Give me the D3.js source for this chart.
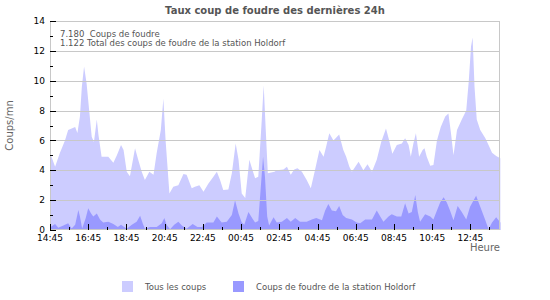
<!DOCTYPE html>
<html>
<head>
<meta charset="utf-8">
<script src="https://cdn.jsdelivr.net/npm/d3@7"></script>
<style>
  body { margin:0; background:#fff; }
  svg { display:block; font-family:"DejaVu Sans", sans-serif; }
</style>
</head>
<body>
<script>
// ---- data (time "HH:MM", coups/mn) ---------------------------------
const allTimes = ["14:48","15:01","15:16","15:32","15:42","16:04","16:11","16:19","16:25","16:32",
  "16:40","16:48","16:56","17:03","17:12","17:17","17:27","17:48","18:04","18:15","18:28","18:36",
  "18:46","18:56","19:12","19:22","19:33","19:43","19:57","20:10","20:20","20:33","20:41","20:48",
  "21:00","21:12","21:28","21:44","21:54","22:10","22:20","22:34","22:47","23:02","23:18","23:29",
  "23:39","23:49","00:05","00:16","00:28","00:37","00:47","00:58","01:11","01:21","01:29","01:39",
  "01:50","01:56","02:02","02:09","02:30","02:37","02:58","03:09","03:21","03:32","03:42","03:56",
  "04:11","04:24","04:37","04:51","05:04","05:12","05:22","05:35","05:53","06:06","06:15","06:25",
  "06:33","06:54","07:09","07:22","07:36","07:51","08:05","08:20","08:30","08:40","08:54","09:10",
  "09:20","09:31","09:38","09:46","09:54","10:04","10:15","10:21","10:28","10:39","10:49","11:00",
  "11:12","11:26","11:36","11:44","11:52","12:03","12:18","12:32","12:40","12:47","12:52","12:58",
  "13:05","13:16","13:32","13:42","13:53","14:06","14:19"];
const allValues = [5.0,4.24,5.15,6.0,6.7,6.9,6.5,7.6,9.6,10.95,
  9.8,8.0,6.25,5.9,7.4,6.4,4.9,4.9,4.5,5.0,5.7,5.36,
  3.9,3.6,5.47,4.7,3.9,3.35,3.9,3.7,5.15,6.7,8.8,6.0,
  2.45,2.9,3.0,3.75,3.7,2.8,2.9,3.0,2.57,3.1,3.57,3.9,
  3.35,2.68,2.72,3.8,5.8,4.7,2.45,2.15,4.7,4.0,3.46,3.57,
  7.4,9.7,6.9,3.8,3.9,4.0,4.06,4.24,3.7,4.06,4.13,3.9,
  3.35,2.8,4.0,5.36,4.9,5.58,6.48,6.0,6.4,5.36,4.9,4.24,
  3.9,4.57,4.0,4.4,3.9,4.7,5.9,6.8,6.0,5.1,5.7,5.8,
  6.14,5.7,4.9,5.8,6.48,4.9,5.36,5.47,4.9,4.3,4.35,6.0,
  6.9,7.6,7.8,6.5,5.0,6.7,7.4,8.0,10.0,12.3,12.9,9.6,
  7.4,6.7,6.14,5.7,5.18,4.96,4.8];

const stationTimes = ["14:48","15:01","15:11","15:27","15:42","15:53","16:04","16:14","16:19","16:26",
  "16:37","16:45","16:54","17:01","17:12","17:22","17:32","17:48","18:04","18:18","18:28","18:38",
  "18:46","19:02","19:17","19:28","19:36","19:43","19:59","20:20","20:36","20:44","20:51","21:02",
  "21:15","21:28","21:39","21:54","22:13","22:28","22:42","22:57","23:18","23:29","23:44","00:00",
  "00:16","00:26","00:37","00:47","00:55","01:08","01:21","01:29","01:39","01:47","01:54","02:00",
  "02:07","02:13","02:27","02:37","02:53","03:09","03:21","03:35","03:50","04:11","04:27","04:41",
  "04:59","05:09","05:19","05:30","05:43","05:53","06:04","06:15","06:33","06:48","06:59","07:15",
  "07:36","07:51","08:02","08:12","08:28","08:38","08:54","09:08","09:20","09:31","09:41","09:52",
  "10:00","10:07","10:23","10:39","10:49","11:00","11:10","11:21","11:31","11:41","11:52","12:05",
  "12:18","12:32","12:44","13:03","13:16","13:32","13:42","13:53","14:06","14:19"];
const stationValues = [0.22,0.4,0.15,0.3,0.45,0.1,0.35,1.34,0.9,0.1,
  0.78,1.45,1.1,0.9,1.1,0.7,0.5,0.55,0.4,0.2,0.35,0.2,
  0.08,0.35,0.55,0.95,0.45,0.08,0.2,0.2,0.45,0.8,0.35,0.05,
  0.35,0.55,0.3,0.08,0.4,0.2,0.2,0.5,0.5,0.9,0.5,0.55,
  1.0,2.0,1.1,0.5,0.35,1.2,0.75,0.5,0.6,2.9,4.9,3.57,
  0.9,0.3,0.85,0.5,0.55,0.8,0.55,0.8,0.55,0.55,0.7,0.8,
  0.65,1.3,1.74,1.3,1.25,1.6,1.0,0.8,0.7,0.5,0.45,0.7,
  0.7,1.3,0.9,0.55,0.9,1.05,0.9,0.9,1.8,1.1,1.2,2.35,
  1.2,0.55,1.05,0.9,0.7,1.3,1.85,2.2,1.85,1.3,0.65,1.6,
  1.2,0.7,1.55,2.3,1.55,0.65,0.05,0.5,0.85,0.5];

const seriesNames = ["Tous les coups", "Coups de foudre de la station Holdorf"];
const infoLines = ["7.180  Coups de foudre", "1.122 Total des coups de foudre de la station Holdorf"];

// ---- layout -------------------------------------------------------
const W = 550, H = 300;
const m = { top:21, right:50, bottom:70, left:50 };
const colLight = "#ccccff", colDark = "#9999ff";

// times before 14:30 belong to the next day
const toDate = s => {
  const [h, mi] = s.split(":").map(Number);
  return new Date(2020, 5, (h < 14 || (h === 14 && mi < 30)) ? 2 : 1, h, mi);
};
const allData = allTimes.map((t, i) => ({ t: toDate(t), v: allValues[i] }));
const stData  = stationTimes.map((t, i) => ({ t: toDate(t), v: stationValues[i] }));

const x = d3.scaleTime()
  .domain([new Date(2020,5,1,14,45), new Date(2020,5,2,14,18)])
  .range([m.left, W - m.right]);
const y = d3.scaleLinear().domain([0, 14]).range([H - m.bottom, m.top]);

const svg = d3.select("body").append("svg").attr("width", W).attr("height", H);

// title
svg.append("text")
  .attr("x", 275).attr("y", 14).attr("text-anchor", "middle")
  .attr("font-size", 10).attr("font-weight", "bold").attr("fill", "#555")
  .text("Taux coup de foudre des dernières 24h");

// areas (first point extended to the plot edge)
const area = d3.area()
  .x(d => x(d.t)).y0(y(0)).y1(d => y(d.v))
  .curve(d3.curveLinear);
const padEdges = arr => [{ t: x.domain()[0], v: arr[0].v }, ...arr];

svg.append("path").datum(padEdges(allData)).attr("fill", colLight).attr("d", area);
svg.append("path").datum(padEdges(stData)).attr("fill", colDark).attr("d", area);

// grid lines
svg.append("g").selectAll("line")
  .data(d3.range(2, 14, 2))
  .join("line")
    .attr("x1", m.left).attr("x2", W - m.right)
    .attr("y1", d => Math.round(y(d)) + 0.5).attr("y2", d => Math.round(y(d)) + 0.5)
    .attr("stroke", "#c8c8c8").attr("stroke-width", 1);

// frame
svg.append("rect")
  .attr("x", m.left + 0.5).attr("y", m.top + 0.5)
  .attr("width", W - m.left - m.right - 1).attr("height", H - m.top - m.bottom - 1)
  .attr("fill", "none").attr("stroke", "#c8c8c8");

// y axis: ticks drawn inward
const yAxisG = svg.append("g").attr("transform", `translate(${m.left},0)`);
yAxisG.selectAll("line.maj")
  .data(d3.range(0, 15, 2)).join("line")
    .attr("x1", 0).attr("x2", 6)
    .attr("y1", d => Math.round(y(d)) + 0.5).attr("y2", d => Math.round(y(d)) + 0.5)
    .attr("stroke", "#000");
yAxisG.selectAll("line.min")
  .data(d3.range(1, 14, 2)).join("line")
    .attr("x1", 0).attr("x2", 3)
    .attr("y1", d => Math.round(y(d)) + 0.5).attr("y2", d => Math.round(y(d)) + 0.5)
    .attr("stroke", "#000");
yAxisG.selectAll("text")
  .data(d3.range(0, 15, 2)).join("text")
    .attr("x", -5).attr("y", d => y(d)).attr("dy", "0.35em")
    .attr("text-anchor", "end").attr("font-size", 9).attr("fill", "#000")
    .text(d => d);

// x axis: hourly ticks at :45, labels every 2h
const [x0, x1] = x.domain();
const hours = d3.timeHour.range(d3.timeHour.floor(x0), x1)
  .map(d => d3.timeMinute.offset(d, 45))
  .filter(d => d >= x0 && d <= x1);
const xAxisG = svg.append("g").attr("transform", `translate(0,${y(0)})`);
xAxisG.selectAll("line")
  .data(hours).join("line")
    .attr("x1", d => Math.round(x(d)) + 0.5).attr("x2", d => Math.round(x(d)) + 0.5)
    .attr("y1", 0).attr("y2", (d, i) => i % 2 ? -3 : -6)
    .attr("stroke", "#000");
xAxisG.selectAll("text")
  .data(hours.filter((d, i) => i % 2 === 0)).join("text")
    .attr("x", d => x(d)).attr("y", 11)
    .attr("text-anchor", "middle").attr("font-size", 9).attr("fill", "#000")
    .text(d3.timeFormat("%H:%M"));

// axis titles
svg.append("text")
  .attr("transform", `translate(13,${(m.top + H - m.bottom) / 2}) rotate(-90)`)
  .attr("text-anchor", "middle").attr("font-size", 10).attr("fill", "#666")
  .text("Coups/mn");
svg.append("text")
  .attr("x", W - m.right).attr("y", 251).attr("text-anchor", "end")
  .attr("font-size", 10).attr("fill", "#666")
  .text("Heure");

// info text inside plot
svg.append("g").selectAll("text")
  .data(infoLines).join("text")
    .attr("x", 60).attr("y", (d, i) => 37 + i * 9)
    .attr("font-size", 8.5).attr("fill", "#555")
    .attr("xml:space", "preserve").style("white-space", "pre")
    .text(d => d);

// legend
const legend = svg.append("g");
const legX = [122, 233];
legend.selectAll("rect")
  .data(seriesNames).join("rect")
    .attr("x", (d, i) => legX[i]).attr("y", 281)
    .attr("width", 11).attr("height", 11)
    .attr("fill", (d, i) => i ? colDark : colLight);
legend.selectAll("text")
  .data(seriesNames).join("text")
    .attr("x", (d, i) => legX[i] + 23).attr("y", 290)
    .attr("font-size", 8.5).attr("fill", "#555")
    .text(d => d);
</script>
</body>
</html>
